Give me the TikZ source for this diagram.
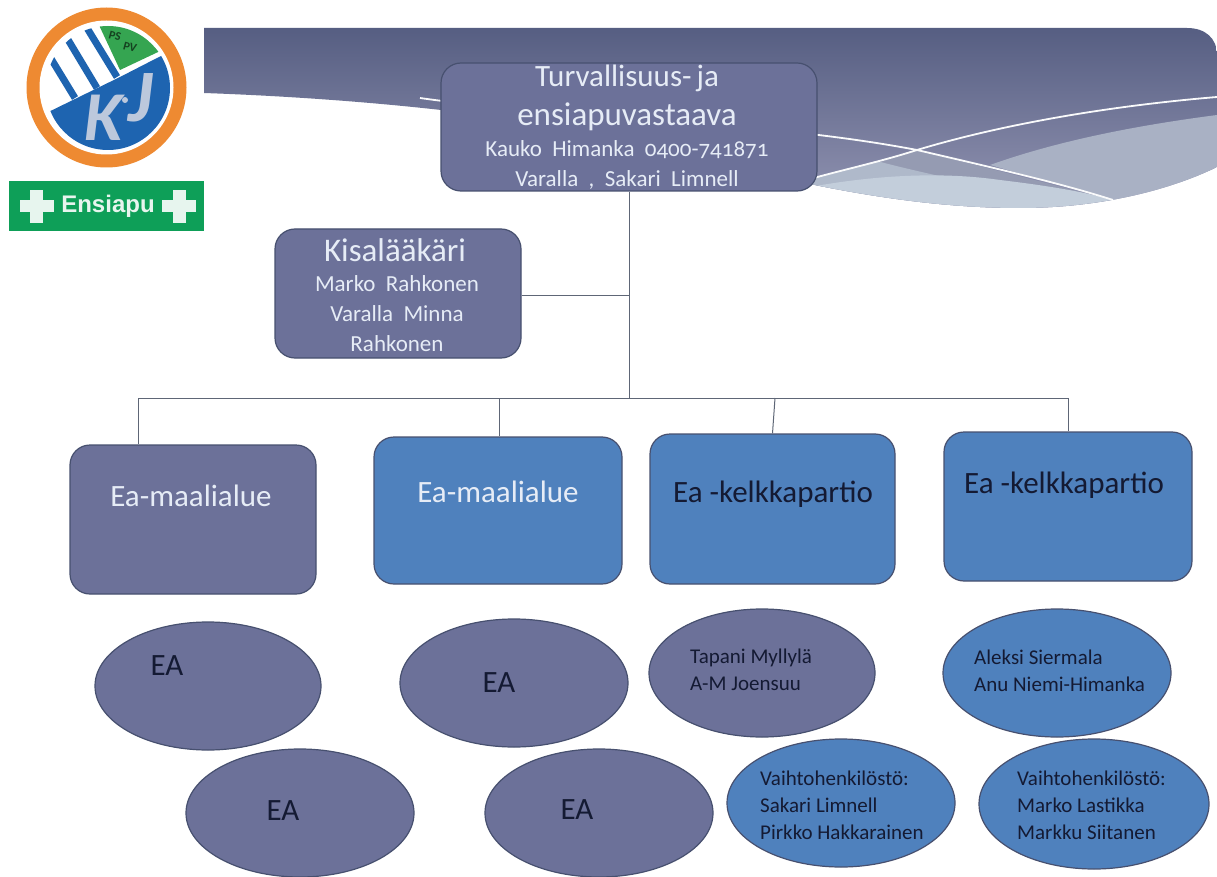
\documentclass[tikz,border=0pt]{standalone}
\usepackage{fontspec}
\setmainfont{Carlito}
\newfontfamily\badgefont{Liberation Sans}
\newfontfamily\widefont[WordSpace=2,Numbers=OldStyle]{Carlito}
\usetikzlibrary{shapes.geometric}
\definecolor{purplefill}{HTML}{6C7199}
\definecolor{bluefill}{HTML}{4F81BD}
\definecolor{edgecol}{HTML}{47506F}
\definecolor{linkcol}{HTML}{5E6676}
\definecolor{inkcol}{HTML}{141A33}
\definecolor{paletxt}{HTML}{E6ECF6}
\definecolor{orangering}{HTML}{EE8A32}
\definecolor{logoblue}{HTML}{1E64B0}
\definecolor{logogreen}{HTML}{35A551}
\definecolor{logotxt}{HTML}{BCC8DC}
\definecolor{badgegreen}{HTML}{0E9F58}
\definecolor{bantop}{HTML}{565E82}
\definecolor{banlow}{HTML}{9294B2}
\definecolor{swooshA}{HTML}{A9B1C4}
\definecolor{swooshB}{HTML}{AFB9CA}
\definecolor{swooshC}{HTML}{C3CEDB}
\definecolor{swooshD}{HTML}{959BB2}
\tikzset{
  x=1pt,y=-1pt,
  box/.style={draw=edgecol,line width=1.2pt,rounded corners=20pt,inner sep=0pt},
  oval/.style={ellipse,draw=edgecol,line width=1.2pt,inner sep=0pt,fill=purplefill},
  bigtxt/.style={text=paletxt,font=\fontsize{31}{31}\selectfont,inner sep=0pt},
  darktxt/.style={text=inkcol,font=\fontsize{31}{31}\selectfont,inner sep=0pt},
  smalltxt/.style={text=inkcol,font=\fontsize{21}{27}\selectfont,inner sep=0pt,align=left},
  link/.style={draw=linkcol,line width=1pt},
  wline/.style={draw=white!90!swooshC,line width=1.8pt}
}
\begin{document}
\begin{tikzpicture}
\useasboundingbox (0,0) rectangle (1217,877);
\fill[white] (0,0) rectangle (1217,877);
% banner
\begin{scope}
\clip (204,28) -- (1187,28) .. controls (1205,28) and (1217,38) .. (1217,55) -- (1217,167)
  .. controls (1170,190) and (1100,208) .. (1020,208)
  .. controls (900,208) and (780,180) .. (650,145)
  .. controls (560,122) and (400,100) .. (204,93) -- cycle;
\shade[top color=bantop,bottom color=banlow] (204,28) rectangle (1217,210);
\fill[swooshD] (810,179) -- (917,150) -- (1113,200) -- (1113,215) -- (810,215) -- cycle;
\fill[swooshA] (990,165) .. controls (1060,140) and (1140,125) .. (1217,115) -- (1217,215) -- (1113,215) -- (1113,200) -- cycle;
\fill[swooshB] (810,179) -- (877,161) .. controls (910,170) and (950,178) .. (990,188) -- (990,215) -- (810,215) -- cycle;
\fill[swooshC] (810,187) .. controls (860,178) and (930,170) .. (1000,180) .. controls (1050,186) and (1085,192) .. (1113,200) -- (1113,215) -- (810,215) -- cycle;
\draw[wline] (420,98) .. controls (560,118) and (760,120) .. (917,150)
  .. controls (990,167) and (1060,183) .. (1113,200);
\draw[wline] (780,188) .. controls (830,172) and (870,165) .. (917,150)
  .. controls (1010,122) and (1120,105) .. (1217,97);
\end{scope}
% logo
\fill[orangering] (106.5,87.5) circle (80);
\fill[white] (106.5,87.5) circle (67);
\begin{scope}
\clip (108,88) circle (62);
\fill[logoblue] (30,121) -- (120,77) -- (157,58) -- (190,42) -- (190,170) -- (30,170) -- cycle;
\fill[logogreen] (98,23) -- (120,70) -- (175,44) -- (150,10) -- (98,10) -- cycle;
\draw[logoblue,line width=7pt] (50,57) -- (75,98);
\draw[logoblue,line width=7pt] (67,38) -- (97,88);
\draw[logoblue,line width=7pt] (87,28) -- (117,77);
\end{scope}
\node[inner sep=0pt,text=black!60!logogreen,rotate=-15,font=\bfseries\fontsize{12}{12}\selectfont] (logops) at (115,36) {PS};
\node[inner sep=0pt,text=black!60!logogreen,rotate=-15,font=\bfseries\fontsize{12}{12}\selectfont] (logopv) at (130,47) {PV};
\node[inner sep=0pt,text=logotxt,font=\bfseries\itshape\fontsize{70}{70}\selectfont] (logok) at (104,118) {K};
\node[inner sep=0pt,text=logotxt,font=\bfseries\itshape\fontsize{74}{74}\selectfont] (logoj) at (141,98) {J};
\fill[logotxt] (125,100) circle (3);
% badge
\fill[badgegreen] (9,181) rectangle (204,231);
\foreach \cx in {36.5,179}{
  \fill[white!90!badgegreen] (\cx-6.5,190) rectangle (\cx+6.5,223);
  \fill[white!90!badgegreen] (\cx-17,200) rectangle (\cx+17,212);
}
\node[inner sep=0pt,text=white!90!badgegreen,font=\badgefont\bfseries\fontsize{24}{24}\selectfont] (badge) at (108,206) {Ensiapu};
% boxes
\node[box,fill=purplefill,minimum width=376pt,minimum height=128pt] (head) at (629,127) {};
\node[bigtxt,font=\fontsize{33}{39}\selectfont,align=center] (headt) at (627,98) {{\fontsize{31}{39}\selectfont Turvallisuus-\hspace{-2pt} ja}\\ensiapuvastaava};
\node[bigtxt,font=\widefont\fontsize{23}{30}\selectfont,align=center] (heads) at (627,165) {Kauko Himanka 0400-741871\\Varalla , Sakari Limnell};
\node[box,fill=purplefill,minimum width=246pt,minimum height=129pt] (doc) at (398,293.5) {};
\node[bigtxt,font=\fontsize{33}{33}\selectfont] (doct) at (395,250) {Kisalääkäri};
\node[bigtxt,font=\widefont\fontsize{23}{30}\selectfont,align=center] (docs) at (397,314) {Marko Rahkonen\\Varalla Minna\\Rahkonen};
\node[box,fill=purplefill,minimum width=246pt,minimum height=149pt] (ea1) at (193,519.5) {};
\node[box,fill=bluefill,minimum width=248pt,minimum height=147pt] (ea2) at (498,510.5) {};
\node[box,fill=bluefill,minimum width=245pt,minimum height=150pt] (ea3) at (772.5,509) {};
\node[box,fill=bluefill,minimum width=248pt,minimum height=149pt] (ea4) at (1068,506.5) {};
\node[bigtxt] (ea1t) at (191,496) {Ea-maalialue};
\node[bigtxt] (ea2t) at (498,492) {Ea-maalialue};
\node[darktxt] (ea3t) at (773,494) {Ea -kelkkapartio};
\node[darktxt] (ea4t) at (1064,485) {Ea -kelkkapartio};
% connectors
\coordinate (bus) at (629,398);
\coordinate (busdoc) at (629,295);
\coordinate (busl) at (138,398);
\coordinate (busm) at (499,398);
\coordinate (busn) at (775,398);
\coordinate (busr) at (1068,398);
\draw[link] (head.south -| bus) -- (bus);
\draw[link] (doc.east |- busdoc) -- (busdoc);
\draw[link] (busl) -- (busr);
\draw[link] (busl) -- (busl |- ea1.north);
\draw[link] (busm) -- (busm |- ea2.north);
\draw[link] (busn) -- (ea3.north);
\draw[link] (busr) -- (busr |- ea4.north);
% ovals
\node[oval,minimum width=226pt,minimum height=128pt] (o1) at (208,686) {};
\node[oval,minimum width=228pt,minimum height=128pt] (o2) at (514,683) {};
\node[oval,minimum width=226pt,minimum height=128pt] (o3) at (762,673) {};
\node[oval,fill=bluefill,minimum width=228pt,minimum height=128pt] (o4) at (1057,673) {};
\node[oval,minimum width=228pt,minimum height=128pt] (o5) at (300,813) {};
\node[oval,minimum width=228pt,minimum height=128pt] (o6) at (599,813) {};
\node[oval,fill=bluefill,minimum width=228pt,minimum height=128pt] (o7) at (841,803) {};
\node[oval,fill=bluefill,minimum width=230pt,minimum height=130pt] (o8) at (1094,804) {};
\node[darktxt] (o1t) at (167,666) {EA};
\node[darktxt] (o2t) at (499,683) {EA};
\node[darktxt] (o5t) at (283,811) {EA};
\node[darktxt] (o6t) at (577,810) {EA};
\node[smalltxt,anchor=west] (o3t) at (690,670) {Tapani Myllylä\\A-M Joensuu};
\node[smalltxt,anchor=west] (o4t) at (974,671) {Aleksi Siermala\\Anu Niemi-Himanka};
\node[smalltxt,anchor=west] (o7t) at (760,805) {Vaihtohenkilöstö:\\Sakari Limnell\\Pirkko Hakkarainen};
\node[smalltxt,anchor=west] (o8t) at (1017,805) {Vaihtohenkilöstö:\\Marko Lastikka\\Markku Siitanen};
\end{tikzpicture}
\end{document}
